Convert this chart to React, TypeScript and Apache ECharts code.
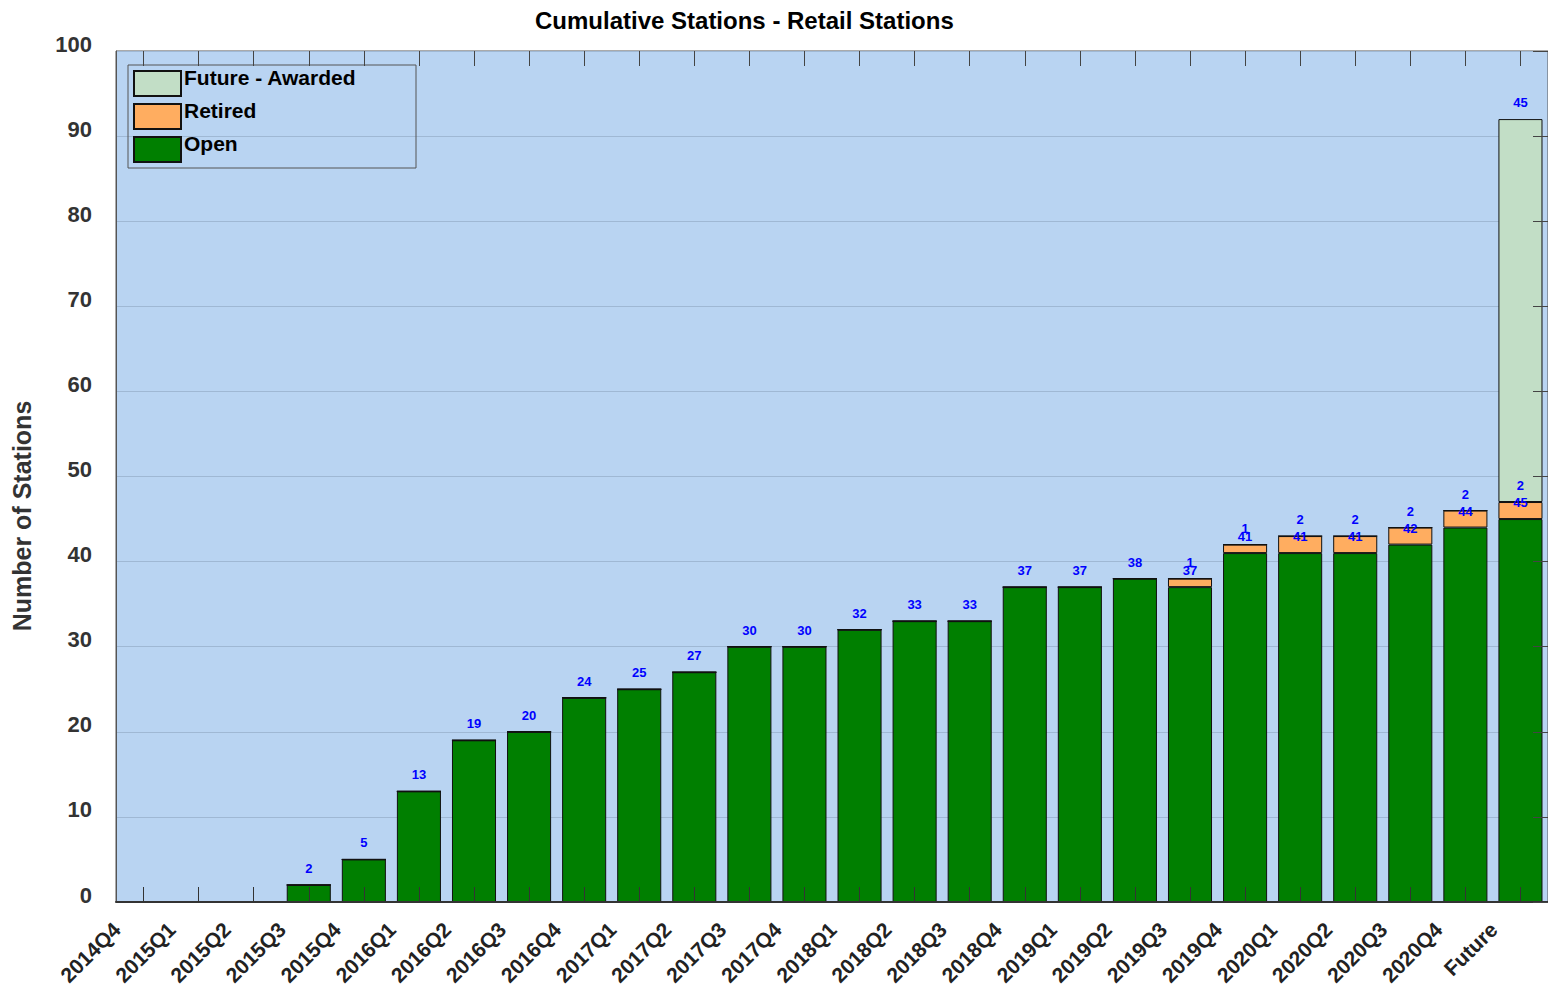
import React, { useEffect, useRef } from "react";
import * as echarts from "echarts";

const categories = [
  "2014Q4", "2015Q1", "2015Q2", "2015Q3", "2015Q4", "2016Q1", "2016Q2", "2016Q3", "2016Q4",
  "2017Q1", "2017Q2", "2017Q3", "2017Q4", "2018Q1", "2018Q2", "2018Q3", "2018Q4",
  "2019Q1", "2019Q2", "2019Q3", "2019Q4", "2020Q1", "2020Q2", "2020Q3", "2020Q4", "Future",
];
const openValues = [0, 0, 0, 2, 5, 13, 19, 20, 24, 25, 27, 30, 30, 32, 33, 33, 37, 37, 38, 37, 41, 41, 41, 42, 44, 45];
const retiredValues = [0, 0, 0, 0, 0, 0, 0, 0, 0, 0, 0, 0, 0, 0, 0, 0, 0, 0, 0, 1, 1, 2, 2, 2, 2, 2];
const futureValues = [0, 0, 0, 0, 0, 0, 0, 0, 0, 0, 0, 0, 0, 0, 0, 0, 0, 0, 0, 0, 0, 0, 0, 0, 0, 45];
const yTicks = { min: 0, max: 100, interval: 10 };

const FONT = "Arial, 'Liberation Sans', sans-serif";

export default function App() {
  const ref = useRef<HTMLDivElement>(null);
  useEffect(() => {
    if (!ref.current) return;
    const chart = echarts.init(ref.current, null, { renderer: "svg" });
    const label = {
      show: true,
      position: "top",
      distance: 10,
      color: "#0000ff",
      fontWeight: "bold",
      fontSize: 13,
      fontFamily: FONT,
      formatter: (p: any) => (p.value > 0 ? String(p.value) : ""),
    };
    const common = {
      type: "bar",
      stack: "total",
      barWidth: "80%",
      label,
    };
    chart.setOption({
      animation: false,
      backgroundColor: "#ffffff",
      title: {
        text: "Cumulative Stations - Retail Stations",
        left: 530,
        top: 3,
        textStyle: { fontFamily: FONT, fontSize: 24, fontWeight: "bold", color: "#000" },
      },
      grid: {
        left: 116,
        right: 0,
        top: 51,
        bottom: 91,
        show: true,
        backgroundColor: "#b9d4f2",
        borderColor: "#555",
        borderWidth: 1,
      },
      legend: {
        orient: "vertical",
        left: 133,
        top: 67,
        padding: 0,
        itemWidth: 47,
        itemHeight: 25,
        itemGap: 0,
        data: ["Future - Awarded", "Retired", "Open"],
        formatter: "{a|{name}}",
        textStyle: {
          fontFamily: FONT,
          fontSize: 21,
          fontWeight: "bold",
          color: "#000",
          rich: {
            a: {
              fontFamily: FONT,
              fontSize: 21,
              fontWeight: "bold",
              color: "#000",
              lineHeight: 21,
              padding: [0, 0, 12, -2],
            },
          },
        },
        icon: "rect",
      },
      graphic: [
        {
          type: "rect",
          shape: { x: 128, y: 65, width: 288, height: 103 },
          style: { fill: "none", stroke: "#555", lineWidth: 1 },
          z: 1,
        },
        {
          type: "text",
          x: 22,
          y: 516,
          rotation: Math.PI / 2,
          style: {
            text: "Number of Stations",
            fontFamily: FONT,
            fontSize: 25,
            fontWeight: "bold",
            fill: "#333",
            align: "center",
            verticalAlign: "middle",
          },
        },
      ],
      xAxis: [
        {
          type: "category",
          data: categories,
          position: "bottom",
          z: 10,
          axisLine: { show: true, onZero: false, lineStyle: { color: "#333", width: 2 } },
          axisTick: { show: true, inside: true, length: 15, interval: 0, alignWithLabel: true, lineStyle: { color: "#333" } },
          axisLabel: {
            rotate: 45,
            interval: 0,
            margin: 14,
            formatter: "{a|{value}}",
            rich: {
              a: {
                fontFamily: FONT,
                fontSize: 21,
                fontWeight: "bold",
                color: "#222",
                padding: [0, 26, 24, 0],
              },
            },
          },
        },
        {
          type: "category",
          data: categories,
          position: "top",
          z: 10,
          axisLine: { show: false, onZero: false },
          axisTick: { show: true, inside: true, length: 15, interval: 0, alignWithLabel: true, lineStyle: { color: "#444" } },
          axisLabel: { show: false, interval: 0 },
        },
      ],
      yAxis: [
        {
          type: "value",
          min: yTicks.min,
          max: yTicks.max,
          interval: yTicks.interval,
          axisLine: { show: true, lineStyle: { color: "#555" } },
          axisTick: { show: false },
          splitLine: { show: true, lineStyle: { color: "#9fb8d4", width: 1 } },
          axisLabel: {
            margin: 24,
            formatter: "{a|{value}}",
            rich: {
              a: {
                fontFamily: FONT,
                fontSize: 22,
                fontWeight: "bold",
                color: "#333",
                padding: [0, 0, 14, 0],
              },
            },
          },
        },
        {
          type: "value",
          position: "right",
          min: yTicks.min,
          max: yTicks.max,
          interval: yTicks.interval,
          z: 10,
          axisLine: { show: false },
          axisTick: { show: true, inside: true, length: 15, lineStyle: { color: "#444" } },
          splitLine: { show: false },
          axisLabel: { show: false },
        },
      ],
      series: [
        {
          ...common,
          name: "Open",
          data: openValues,
          itemStyle: { color: "#007f00", borderColor: "#111", borderWidth: 1 },
        },
        {
          ...common,
          name: "Retired",
          data: retiredValues,
          itemStyle: { color: "#ffad60", borderColor: "#111", borderWidth: 1 },
        },
        {
          ...common,
          name: "Future - Awarded",
          data: futureValues,
          itemStyle: { color: "#c2dec6", borderColor: "#111", borderWidth: 1 },
        },
      ],
    });
    return () => chart.dispose();
  }, []);
  return (
    <div
      ref={ref}
      style={{ position: "fixed", left: 0, top: 0, width: 1548, height: 993 }}
    />
  );
}
